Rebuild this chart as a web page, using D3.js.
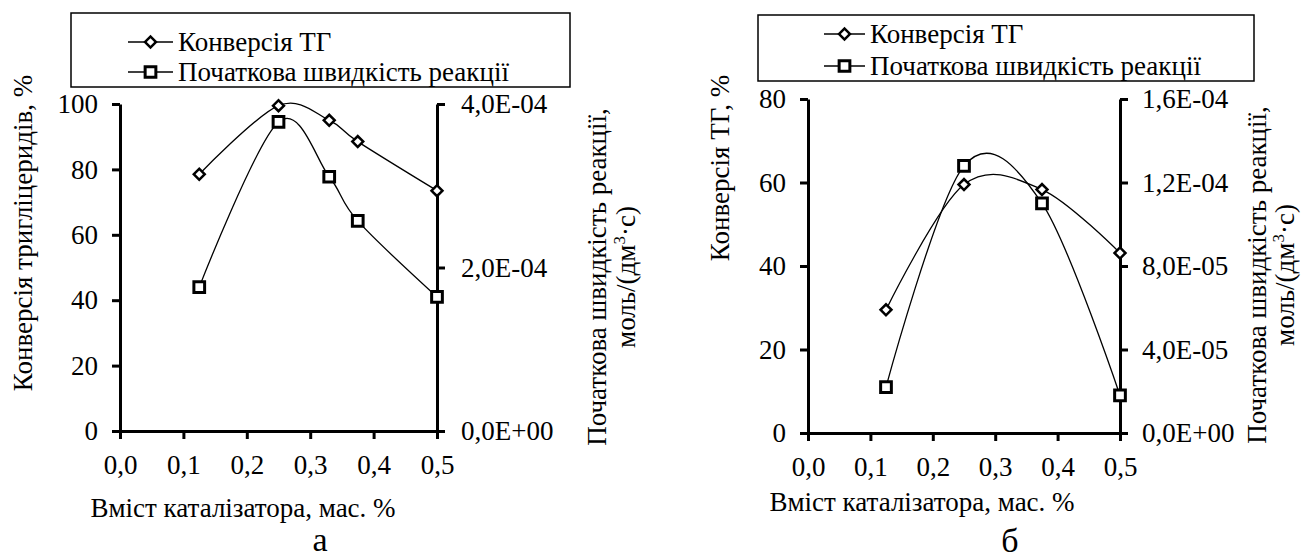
<!DOCTYPE html>
<html>
<head>
<meta charset="utf-8">
<script src="https://cdn.jsdelivr.net/npm/d3@7"></script>
<style>
  body { margin: 0; background: #fff; }
  svg text { font-family: "Liberation Serif", Tinos, "Times New Roman", "DejaVu Serif", serif; }
</style>
</head>
<body>
<svg id="chart" width="1301" height="559"></svg>
<script>
// panel а
const catalystA = [0.125, 0.25, 0.33, 0.375, 0.5];
const conversionA = [78.5, 99.5, 95, 88.5, 73.5];
const rateA = [1.76e-4, 3.78e-4, 3.11e-4, 2.57e-4, 1.64e-4];

// panel б
const catalystB = [0.125, 0.25, 0.375, 0.5];
const conversionB = [29.5, 59.5, 58.3, 43.1];
const rateB = [2.2e-5, 1.28e-4, 1.10e-4, 1.8e-5];

// ticks
const xTicks = [0, 0.1, 0.2, 0.3, 0.4, 0.5];
const convTicksA = [0, 20, 40, 60, 80, 100];
const rateTicksA = [0, 2e-4, 4e-4];
const convTicksB = [0, 20, 40, 60, 80];
const rateTicksB = [0, 4e-5, 8e-5, 1.2e-4, 1.6e-4];

// text
const legendLabels = ['Конверсія ТГ', 'Початкова швидкість реакції'];
const xTitle = 'Вміст каталізатора, мас. %';
const convTitleA = 'Конверсія тригліцеридів, %';
const convTitleB = 'Конверсія ТГ, %';
const rateTitle1 = 'Початкова швидкість реакції,';

const svg = d3.select('#chart');
const FONT = '"Liberation Serif", Tinos, "Times New Roman", "DejaVu Serif", serif';
const FS = 27;

const fmtX = d => d3.format('.1f')(d).replace('.', ',');
const fmtSci = v => {
  if (v === 0) return '0,0E+00';
  const e = Math.floor(Math.log10(v) + 1e-9);
  const m = (v / Math.pow(10, e)).toFixed(1).replace('.', ',');
  return m + 'E' + (e < 0 ? '-' : '+') + String(Math.abs(e)).padStart(2, '0');
};

const diamond = d3.symbol(d3.symbolSquare, 60);
const square = d3.symbol(d3.symbolSquare, 115);

function drawPanel(p) {
  const x = d3.scaleLinear().domain([0, 0.5]).range([p.x0, p.x1]);
  const yL = d3.scaleLinear().domain([0, p.convMax]).range([p.y0, p.y1]);
  const yR = d3.scaleLinear().domain([0, p.rateMax]).range([p.y0, p.y1]);

  const g = svg.append('g').attr('font-family', FONT);

  // axes
  const styleAxis = a => {
    a.attr('font-family', FONT).attr('font-size', FS);
    a.select('.domain').attr('stroke', '#000').attr('stroke-width', 3);
    a.selectAll('.tick line').attr('stroke', '#000').attr('stroke-width', 3);
    a.selectAll('.tick text').attr('fill', '#000');
  };

  g.append('g')
    .attr('transform', `translate(0,${p.y0})`)
    .call(d3.axisBottom(x).tickValues(xTicks).tickFormat(fmtX)
      .tickSize(8).tickSizeOuter(0).tickPadding(16))
    .call(styleAxis);

  g.append('g')
    .attr('transform', `translate(${p.x0},0)`)
    .call(d3.axisLeft(yL).tickValues(p.convTicks).tickSize(8).tickSizeOuter(0).tickPadding(14))
    .call(styleAxis);

  g.append('g')
    .attr('transform', `translate(${p.x1},0)`)
    .call(d3.axisRight(yR).tickValues(p.rateTicks).tickFormat(fmtSci)
      .tickSize(8).tickSizeOuter(0).tickPadding(p.rPad))
    .call(styleAxis);

  // smooth lines (Excel-like)
  const convPts = p.cat.map((c, i) => [x(c), yL(p.conv[i])]);
  const ratePts = p.cat.map((c, i) => [x(c), yR(p.rate[i])]);
  const line = d3.line().curve(d3.curveCardinal.tension(0));

  g.append('path').attr('d', line(convPts))
    .attr('fill', 'none').attr('stroke', '#000').attr('stroke-width', 1.3);
  g.append('path').attr('d', line(ratePts))
    .attr('fill', 'none').attr('stroke', '#000').attr('stroke-width', 1.3);

  g.selectAll('.dm').data(convPts).enter().append('path')
    .attr('d', diamond)
    .attr('transform', d => `translate(${d[0]},${d[1]}) rotate(45)`)
    .attr('fill', '#fff').attr('stroke', '#000').attr('stroke-width', 2.5);

  g.selectAll('.sq').data(ratePts).enter().append('path')
    .attr('d', square)
    .attr('transform', d => `translate(${d[0]},${d[1]})`)
    .attr('fill', '#fff').attr('stroke', '#000').attr('stroke-width', 3);

  // legend
  const lg = p.legend;
  g.append('rect')
    .attr('x', lg.x).attr('y', lg.y).attr('width', lg.w).attr('height', lg.h)
    .attr('fill', '#fff').attr('stroke', '#000').attr('stroke-width', 1.5);
  legendLabels.forEach((t, i) => {
    const cy = lg.rows[i];
    g.append('line').attr('x1', lg.lx0).attr('x2', lg.lx1).attr('y1', cy).attr('y2', cy)
      .attr('stroke', '#000').attr('stroke-width', 1.3);
    g.append('path')
      .attr('d', i === 0 ? diamond : square)
      .attr('transform', `translate(${(lg.lx0 + lg.lx1) / 2},${cy})` + (i === 0 ? ' rotate(45)' : ''))
      .attr('fill', '#fff').attr('stroke', '#000').attr('stroke-width', i === 0 ? 2.5 : 3);
    g.append('text').attr('x', lg.lx1 + 5).attr('y', cy).attr('dy', '0.35em')
      .attr('font-size', FS).text(t);
  });

  // titles
  g.append('text')
    .attr('transform', `translate(${p.leftTitle[0]},${p.leftTitle[1]}) rotate(-90)`)
    .attr('text-anchor', 'middle').attr('dy', '0.35em')
    .attr('font-size', FS).text(p.convTitle);

  g.append('text')
    .attr('transform', `translate(${p.rightTitle[0]},${p.rightTitle[2]}) rotate(-90)`)
    .attr('text-anchor', 'middle').attr('dy', '0.35em')
    .attr('font-size', FS).text(rateTitle1);

  const t2 = g.append('text')
    .attr('transform', `translate(${p.rightTitle[1]},${p.rightTitle[2]}) rotate(-90)`)
    .attr('text-anchor', 'middle').attr('dy', '0.35em')
    .attr('font-size', FS);
  t2.append('tspan').text('моль/(дм');
  t2.append('tspan').attr('dy', -10).attr('font-size', 17).text('3');
  t2.append('tspan').attr('dy', 10).text('·с)');

  g.append('text')
    .attr('x', p.xTitle[0]).attr('y', p.xTitle[1]).attr('dy', '0.35em')
    .attr('text-anchor', 'middle')
    .attr('font-size', FS).text(xTitle);

  g.append('text')
    .attr('x', p.tag[0]).attr('y', p.tag[1])
    .attr('text-anchor', 'middle')
    .attr('font-size', 34).text(p.tagText);
}

drawPanel({
  x0: 120, x1: 437, y0: 431, y1: 104,
  convMax: 100, rateMax: 4e-4,
  convTicks: convTicksA, rateTicks: rateTicksA, rPad: 16,
  cat: catalystA, conv: conversionA, rate: rateA,
  legend: { x: 71, y: 13, w: 499, h: 74, rows: [42, 72], lx0: 128, lx1: 173 },
  convTitle: convTitleA, leftTitle: [23, 233],
  rightTitle: [597, 626, 277],
  xTitle: [243, 508], tag: [320, 551], tagText: 'а'
});

drawPanel({
  x0: 808, x1: 1120, y0: 433, y1: 99,
  convMax: 80, rateMax: 1.6e-4,
  convTicks: convTicksB, rateTicks: rateTicksB, rPad: 14,
  cat: catalystB, conv: conversionB, rate: rateB,
  legend: { x: 758, y: 15, w: 496, h: 66, rows: [34, 66], lx0: 824, lx1: 865 },
  convTitle: convTitleB, leftTitle: [720, 168],
  rightTitle: [1257, 1285, 275],
  xTitle: [922, 502], tag: [1010, 552], tagText: 'б'
});
</script>
</body>
</html>
